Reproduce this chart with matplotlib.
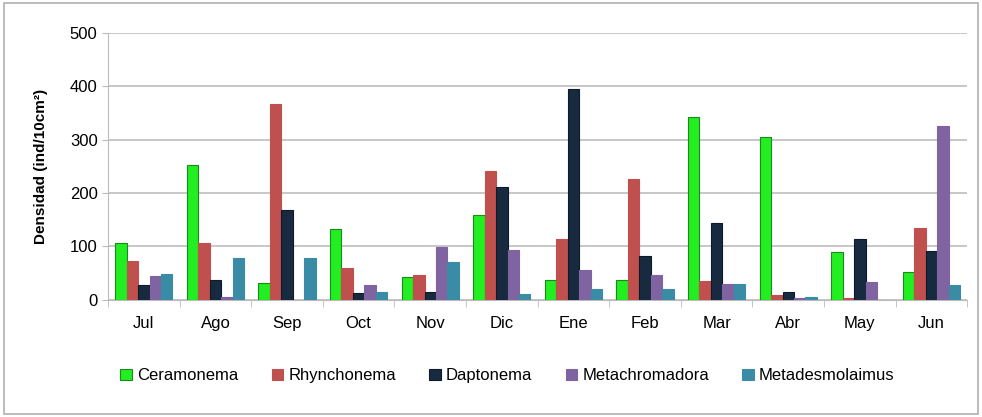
import matplotlib
matplotlib.use('Agg')
import matplotlib.pyplot as plt
import numpy as np
from matplotlib.patches import Rectangle

months = ['Jul', 'Ago', 'Sep', 'Oct', 'Nov', 'Dic', 'Ene', 'Feb', 'Mar', 'Abr', 'May', 'Jun']
ceramonema = [106, 253, 32, 132, 42, 159, 37, 37, 342, 305, 89, 53]
rhynchonema = [72, 106, 366, 59, 47, 242, 114, 227, 36, 9, 4, 135]
daptonema = [27, 37, 169, 12, 14, 212, 395, 83, 144, 14, 114, 91]
metachromadora = [45, 6, 0, 27, 99, 93, 56, 46, 30, 4, 34, 326]
metadesmolaimus = [49, 78, 78, 14, 70, 11, 21, 21, 30, 6, 0, 27]

series = [('Ceramonema', ceramonema, '#22ee22', '#1a8a1a'),
          ('Rhynchonema', rhynchonema, '#c0504d', '#c0504d'),
          ('Daptonema', daptonema, '#172a40', '#0e1a28'),
          ('Metachromadora', metachromadora, '#8064a2', '#8064a2'),
          ('Metadesmolaimus', metadesmolaimus, '#3a8ca6', '#3a8ca6')]

plt.rcParams['font.family'] = ['Liberation Sans Narrow', 'Liberation Sans', 'DejaVu Sans']

fig = plt.figure(figsize=(9.82, 4.17), dpi=100)
ax = fig.add_axes([0.110, 0.281, 0.875, 0.640])

x = np.arange(len(months))
w = 0.16
for i, (name, vals, fc, ec) in enumerate(series):
    ax.bar(x + (i - 2) * w, vals, w, color=fc, edgecolor=ec, linewidth=0.8, label=name, zorder=3)

ax.set_xlim(-0.5, len(months) - 0.5)
ax.set_ylim(0, 500)
ax.set_yticks(range(0, 501, 100))
ax.yaxis.grid(True, color='#bdbdbd', linewidth=1.2, zorder=0)
ax.set_xticks(x)
ax.set_xticklabels(months, fontsize=12)
ax.set_xticks(np.arange(-0.5, len(months), 1), minor=True)
ax.tick_params(axis='x', which='major', length=0, pad=12)
ax.tick_params(axis='x', which='minor', length=5, color='#bbbbbb')
ax.tick_params(axis='y', length=4, color='#bbbbbb', labelsize=12)
for s in ['top', 'right']:
    ax.spines[s].set_visible(False)
ax.spines['left'].set_color('#bbbbbb')
ax.spines['bottom'].set_color('#bbbbbb')
ax.set_ylabel('Densidad (ind/10cm²)', fontsize=11, fontweight='bold',
              family=['Liberation Sans', 'DejaVu Sans'], labelpad=16)

ax.legend(loc='upper center', bbox_to_anchor=(0.465, -0.20), ncol=5, frameon=False,
          fontsize=12, handlelength=0.7, handleheight=0.7, handletextpad=0.3, columnspacing=2.0)

fig.patches.append(Rectangle((0.004, 0.006), 0.992, 0.988, transform=fig.transFigure,
                             fill=False, edgecolor='#b0b0b0', linewidth=1.2))

fig.savefig('out.png', dpi=100)
